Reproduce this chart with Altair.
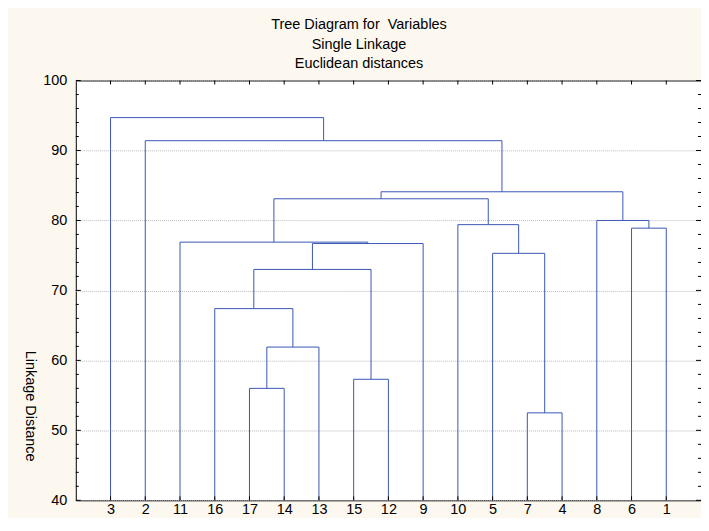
import altair as alt
import pandas as pd

# ---- data ----
leaves = ["3", "2", "11", "16", "17", "14", "13", "15", "12", "9", "10", "5", "7", "4", "8", "6", "1"]
# merge i creates cluster "c{i+1}"
merge_left = ["17", "15", "7", "c1", "16", "c5", "c6", "11", "5", "10", "6", "8", "c8", "c13", "2", "3"]
merge_right = ["14", "12", "4", "13", "c4", "c2", "9", "c7", "c3", "c9", "1", "c11", "c10", "c12", "c14", "c15"]
merge_height = [56.0, 57.3, 52.5, 61.9, 67.4, 73.0, 76.7, 76.9, 75.3, 79.4, 78.9, 80.0, 83.1, 84.1, 91.4, 94.7]

y_labels = [40, 50, 60, 70, 80, 90, 100]
y_minor = [42, 44, 46, 48, 52, 54, 56, 58, 62, 64, 66, 68, 72, 74, 76, 78, 82, 84, 86, 88, 92, 94, 96, 98]

title_lines = ["Tree Diagram for \u00a0Variables", "Single Linkage", "Euclidean distances"]
y_title = "Linkage Distance"

# ---- build dendrogram segments ----
Y_MIN, Y_MAX = 40, 100
pos = {lab: i + 1 for i, lab in enumerate(leaves)}
hgt = {lab: Y_MIN for lab in leaves}
rows = []
for i, (a, b, h) in enumerate(zip(merge_left, merge_right, merge_height)):
    rows.append({"x1": pos[a], "y1": hgt[a], "x2": pos[a], "y2": h})
    rows.append({"x1": pos[a], "y1": h, "x2": pos[b], "y2": h})
    rows.append({"x1": pos[b], "y1": hgt[b], "x2": pos[b], "y2": h})
    name = f"c{i + 1}"
    pos[name] = (pos[a] + pos[b]) / 2
    hgt[name] = h
seg_df = pd.DataFrame(rows)
leaf_df = pd.DataFrame({"x1": [pos[l] for l in leaves], "label": leaves})
major_df = pd.DataFrame({"y1": y_labels})
minor_df = pd.DataFrame({"y1": y_minor})

W, H = 627, 421
FONT = "Liberation Sans"
FS = 14.5
BLUE = "#3A57B5"

xscale = alt.Scale(domain=[0, len(leaves) + 1], nice=False, zero=False)
yscale = alt.Scale(domain=[Y_MIN, Y_MAX], nice=False, zero=False)

label_arr = "[" + ",".join(f"'{l}'" for l in leaves) + "]"

x_axis = alt.Axis(
    values=list(range(1, len(leaves) + 1)),
    labelExpr=f"{label_arr}[datum.value - 1]",
    ticks=False, domain=False, grid=False, title=None,
    labelFont=FONT, labelFontSize=FS, labelColor="black",
    labelPadding=2, labelOverlap=False, labelFlush=False)
y_axis = alt.Axis(
    values=y_labels, ticks=False, domain=False, grid=True,
    gridColor="#b8b8b8", gridDash=[1, 1], gridWidth=1,
    labelFont=FONT, labelFontSize=FS, labelColor="black", labelPadding=9,
    labelFlush=False,
    title=y_title, titleFont=FONT, titleFontSize=FS, titleFontWeight="normal",
    titleColor="black", titleAngle=90, titleX=-46, titleY=326,
    titleAlign="center", titleBaseline="middle")

X = alt.X("x1:Q", scale=xscale, axis=x_axis)
Y = alt.Y("y1:Q", scale=yscale, axis=y_axis)

links = alt.Chart(seg_df).mark_rule(color=BLUE, strokeWidth=1).encode(
    x=X, x2="x2:Q", y=Y, y2="y2:Q")

top_ticks = alt.Chart(leaf_df).mark_rule(color="black").encode(
    x=X, y=alt.value(0), y2=alt.value(4))
bottom_ticks = alt.Chart(leaf_df).mark_rule(color="black").encode(
    x=X, y=alt.value(H), y2=alt.value(H - 4))
left_major = alt.Chart(major_df).mark_rule(color="black").encode(
    y=Y, x=alt.value(0), x2=alt.value(5))
left_minor = alt.Chart(minor_df).mark_rule(color="black").encode(
    y=Y, x=alt.value(0), x2=alt.value(3))
right_major = alt.Chart(major_df).mark_rule(color="black").encode(
    y=Y, x=alt.value(W), x2=alt.value(W - 5))
right_minor = alt.Chart(minor_df).mark_rule(color="black").encode(
    y=Y, x=alt.value(W), x2=alt.value(W - 3))

chart = alt.layer(
    links, top_ticks, bottom_ticks, left_major, left_minor, right_major, right_minor
).properties(
    width=W, height=H,
    title=alt.TitleParams(
        text=title_lines, anchor="middle", frame="group", dx=-29.5,
        font=FONT, fontSize=FS, fontWeight="normal", color="black",
        lineHeight=19.5, offset=1),
    autosize=alt.AutoSizeParams(type="none"),
    padding={"left": 68, "top": 72, "right": 0, "bottom": 17},
    background="#FCF8EF",
).configure_view(fill="white", stroke="black", strokeWidth=1)

chart.save("out.html", embed_options={"renderer": "svg", "actions": False})
